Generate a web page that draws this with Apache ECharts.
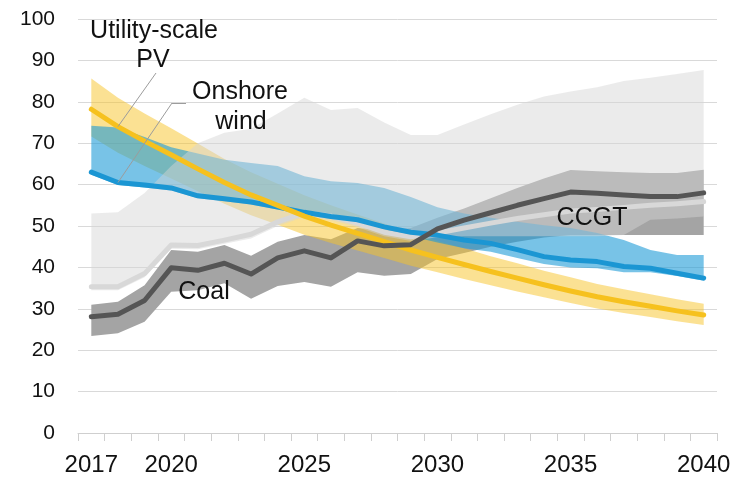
<!DOCTYPE html>
<html>
<head>
<meta charset="utf-8">
<script src="https://cdn.jsdelivr.net/npm/echarts@6/dist/echarts.min.js"></script>
<style>
  html, body { margin: 0; padding: 0; background: #ffffff; }
  #chart { width: 734px; height: 477px; }
</style>
</head>
<body>
<div id="chart"></div>
<script>
// Years on the category axis and the ones that get a label
const years = ['2017','2018','2019','2020','2021','2022','2023','2024','2025','2026','2027','2028',
               '2029','2030','2031','2032','2033','2034','2035','2036','2037','2038','2039','2040'];
const xTickLabels = ['2017','2020','2025','2030','2035','2040'];
const yMin = 0, yMax = 100, yStep = 10;

// Utility-scale PV: central estimate and range
const pvLine = [78.2,74.0,70.5,67.2,63.8,60.5,57.5,55.0,52.4,50.2,48.2,46.2,44.2,42.4,40.7,39.0,37.4,35.8,34.3,32.9,31.7,30.6,29.5,28.5];
const pvHigh = [85.6,81.0,77.2,73.6,69.9,66.2,63.0,60.2,57.4,55.0,52.8,50.6,48.4,46.4,44.6,42.7,41.0,39.2,37.6,36.0,34.7,33.5,32.3,31.2];
const pvLow  = [71.6,67.7,64.5,61.5,58.4,55.4,52.6,50.3,47.9,45.9,44.1,42.3,40.4,38.8,37.2,35.7,34.2,32.8,31.4,30.1,29.0,28.0,27.0,26.1];

// Onshore wind
const windLine = [63.0,60.5,59.9,59.2,57.3,56.6,55.8,54.6,53.3,52.3,51.5,49.8,48.5,47.8,46.6,45.8,44.3,42.6,41.8,41.4,40.2,39.8,38.6,37.4];
const windHigh = [74.2,73.8,71.5,69.0,67.5,66.0,65.2,64.5,62.0,60.8,60.4,59.2,57.0,54.5,53.0,52.0,51.0,50.2,49.5,48.3,46.6,44.2,43.0,43.0];
const windLow  = [62.4,59.9,59.3,58.6,56.7,56.0,55.2,54.0,52.7,51.7,50.9,49.2,47.5,46.0,44.6,43.8,42.3,40.8,40.0,39.8,38.8,38.8,37.9,36.8];

// Coal
const coalLine = [28.1,28.7,32.0,39.9,39.3,41.0,38.4,42.3,44.0,42.3,46.4,45.2,45.5,49.3,51.4,53.2,55.0,56.6,58.2,57.9,57.5,57.1,57.1,58.0];
const coalHigh = [31.0,31.7,35.7,44.2,43.8,45.4,42.8,46.2,47.8,46.8,49.5,49.0,49.5,52.0,54.2,56.7,59.2,61.5,63.5,63.2,63.0,62.8,62.8,63.6];
const coalLow  = [23.4,24.1,26.9,34.1,34.5,36.2,32.4,35.5,36.5,35.3,38.8,38.0,38.4,42.0,43.5,45.0,46.2,47.2,47.8,47.8,47.8,47.8,47.8,47.8];

// CCGT
const ccgtLine = [35.3,35.3,38.5,45.4,45.3,46.6,48.0,51.0,53.2,52.4,50.7,48.5,47.4,48.3,49.5,50.7,51.8,52.7,53.6,54.0,54.5,55.0,55.4,55.9];
const ccgtHigh = [53.0,53.3,58.0,64.5,70.0,72.5,73.5,77.2,81.0,78.0,78.5,75.0,72.0,72.0,74.5,77.0,79.3,81.3,82.5,83.5,85.0,85.8,86.7,87.7];
const ccgtLow  = [34.5,34.5,37.6,44.5,44.4,45.7,47.0,50.0,52.2,51.4,49.7,47.5,46.4,47.3,47.5,47.5,47.5,47.5,47.5,47.5,47.8,51.5,51.8,52.3];

const FONT = '"Liberation Sans", Arial, Helvetica, sans-serif';

// A shaded range built as two stacked series: an invisible base and the filled span on top
function band(id, low, high, fill) {
  return [
    { name: id + '-base', type: 'line', stack: id, data: low, symbol: 'none', silent: true,
      lineStyle: { opacity: 0 }, animation: false },
    { name: id + '-span', type: 'line', stack: id, symbol: 'none', silent: true,
      data: high.map((h, i) => +(h - low[i]).toFixed(2)),
      lineStyle: { opacity: 0 }, areaStyle: { color: fill, opacity: 1 }, animation: false }
  ];
}

function line(name, data, color, extra) {
  return Object.assign({
    name, type: 'line', data, symbol: 'none', silent: true, animation: false,
    lineStyle: { width: 5, color, join: 'round', cap: 'round' }
  }, extra || {});
}

const leaderStyle = { color: '#9c9c9c', width: 1, type: 'solid' };

const series = [].concat(
  band('coal', coalLow, coalHigh, '#a4a4a4'),
  band('pv', pvLow, pvHigh, 'rgba(248,196,40,0.5)'),
  band('wind', windLow, windHigh, 'rgba(30,155,215,0.6)'),
  band('ccgt', ccgtLow, ccgtHigh, 'rgba(212,212,212,0.47)'),
  [
    line('CCGT', ccgtLine, '#d8d8d8'),
    line('Onshore wind', windLine, '#1b96d3', {
      markLine: {
        silent: true, symbol: 'none', label: { show: false }, lineStyle: leaderStyle, animation: false,
        data: [
          [{ x: 186, y: 103 }, { x: 172, y: 103 }],
          [{ x: 172, y: 103 }, { coord: ['2018', windLine[1]] }]
        ]
      }
    }),
    line('Utility-scale PV', pvLine, '#f6c11e', {
      markLine: {
        silent: true, symbol: 'none', label: { show: false }, lineStyle: leaderStyle, animation: false,
        data: [
          [{ x: 156, y: 73 }, { coord: ['2018', pvLine[1]] }]
        ]
      }
    }),
    line('Coal', coalLine, '#555555')
  ]
);

function note(text, x, y) {
  return {
    type: 'text', silent: true, z: 100,
    style: {
      text, x, y, fill: '#111111', font: '25px ' + FONT,
      align: 'center', verticalAlign: 'middle',
      textAlign: 'center', textVerticalAlign: 'middle'
    }
  };
}

const chart = echarts.init(document.getElementById('chart'), null, { renderer: 'canvas' });
chart.setOption({
  backgroundColor: '#ffffff',
  animation: false,
  grid: { left: 78, right: 17, top: 19, bottom: 44, outerBoundsMode: 'none' },
  xAxis: {
    type: 'category',
    data: years,
    boundaryGap: true,
    axisLine: { lineStyle: { color: '#cfcfcf', width: 1 } },
    axisTick: { show: true, interval: 0, length: 8, lineStyle: { color: '#cfcfcf' } },
    axisLabel: {
      interval: (idx, val) => xTickLabels.includes(val),
      fontSize: 24, color: '#111111', fontFamily: FONT, margin: 20
    },
    splitLine: { show: false }
  },
  yAxis: {
    type: 'value',
    min: yMin, max: yMax, interval: yStep,
    axisLine: { show: false },
    axisTick: { show: false },
    axisLabel: { fontSize: 21, color: '#111111', fontFamily: FONT, margin: 23 },
    splitLine: { lineStyle: { color: '#d9d9d9', width: 1 } }
  },
  series,
  graphic: [
    note('Utility-scale', 154, 31),
    note('PV', 153, 60),
    note('Onshore', 240, 92),
    note('wind', 241, 122),
    note('Coal', 204, 292),
    note('CCGT', 592, 218)
  ]
});
</script>
</body>
</html>
